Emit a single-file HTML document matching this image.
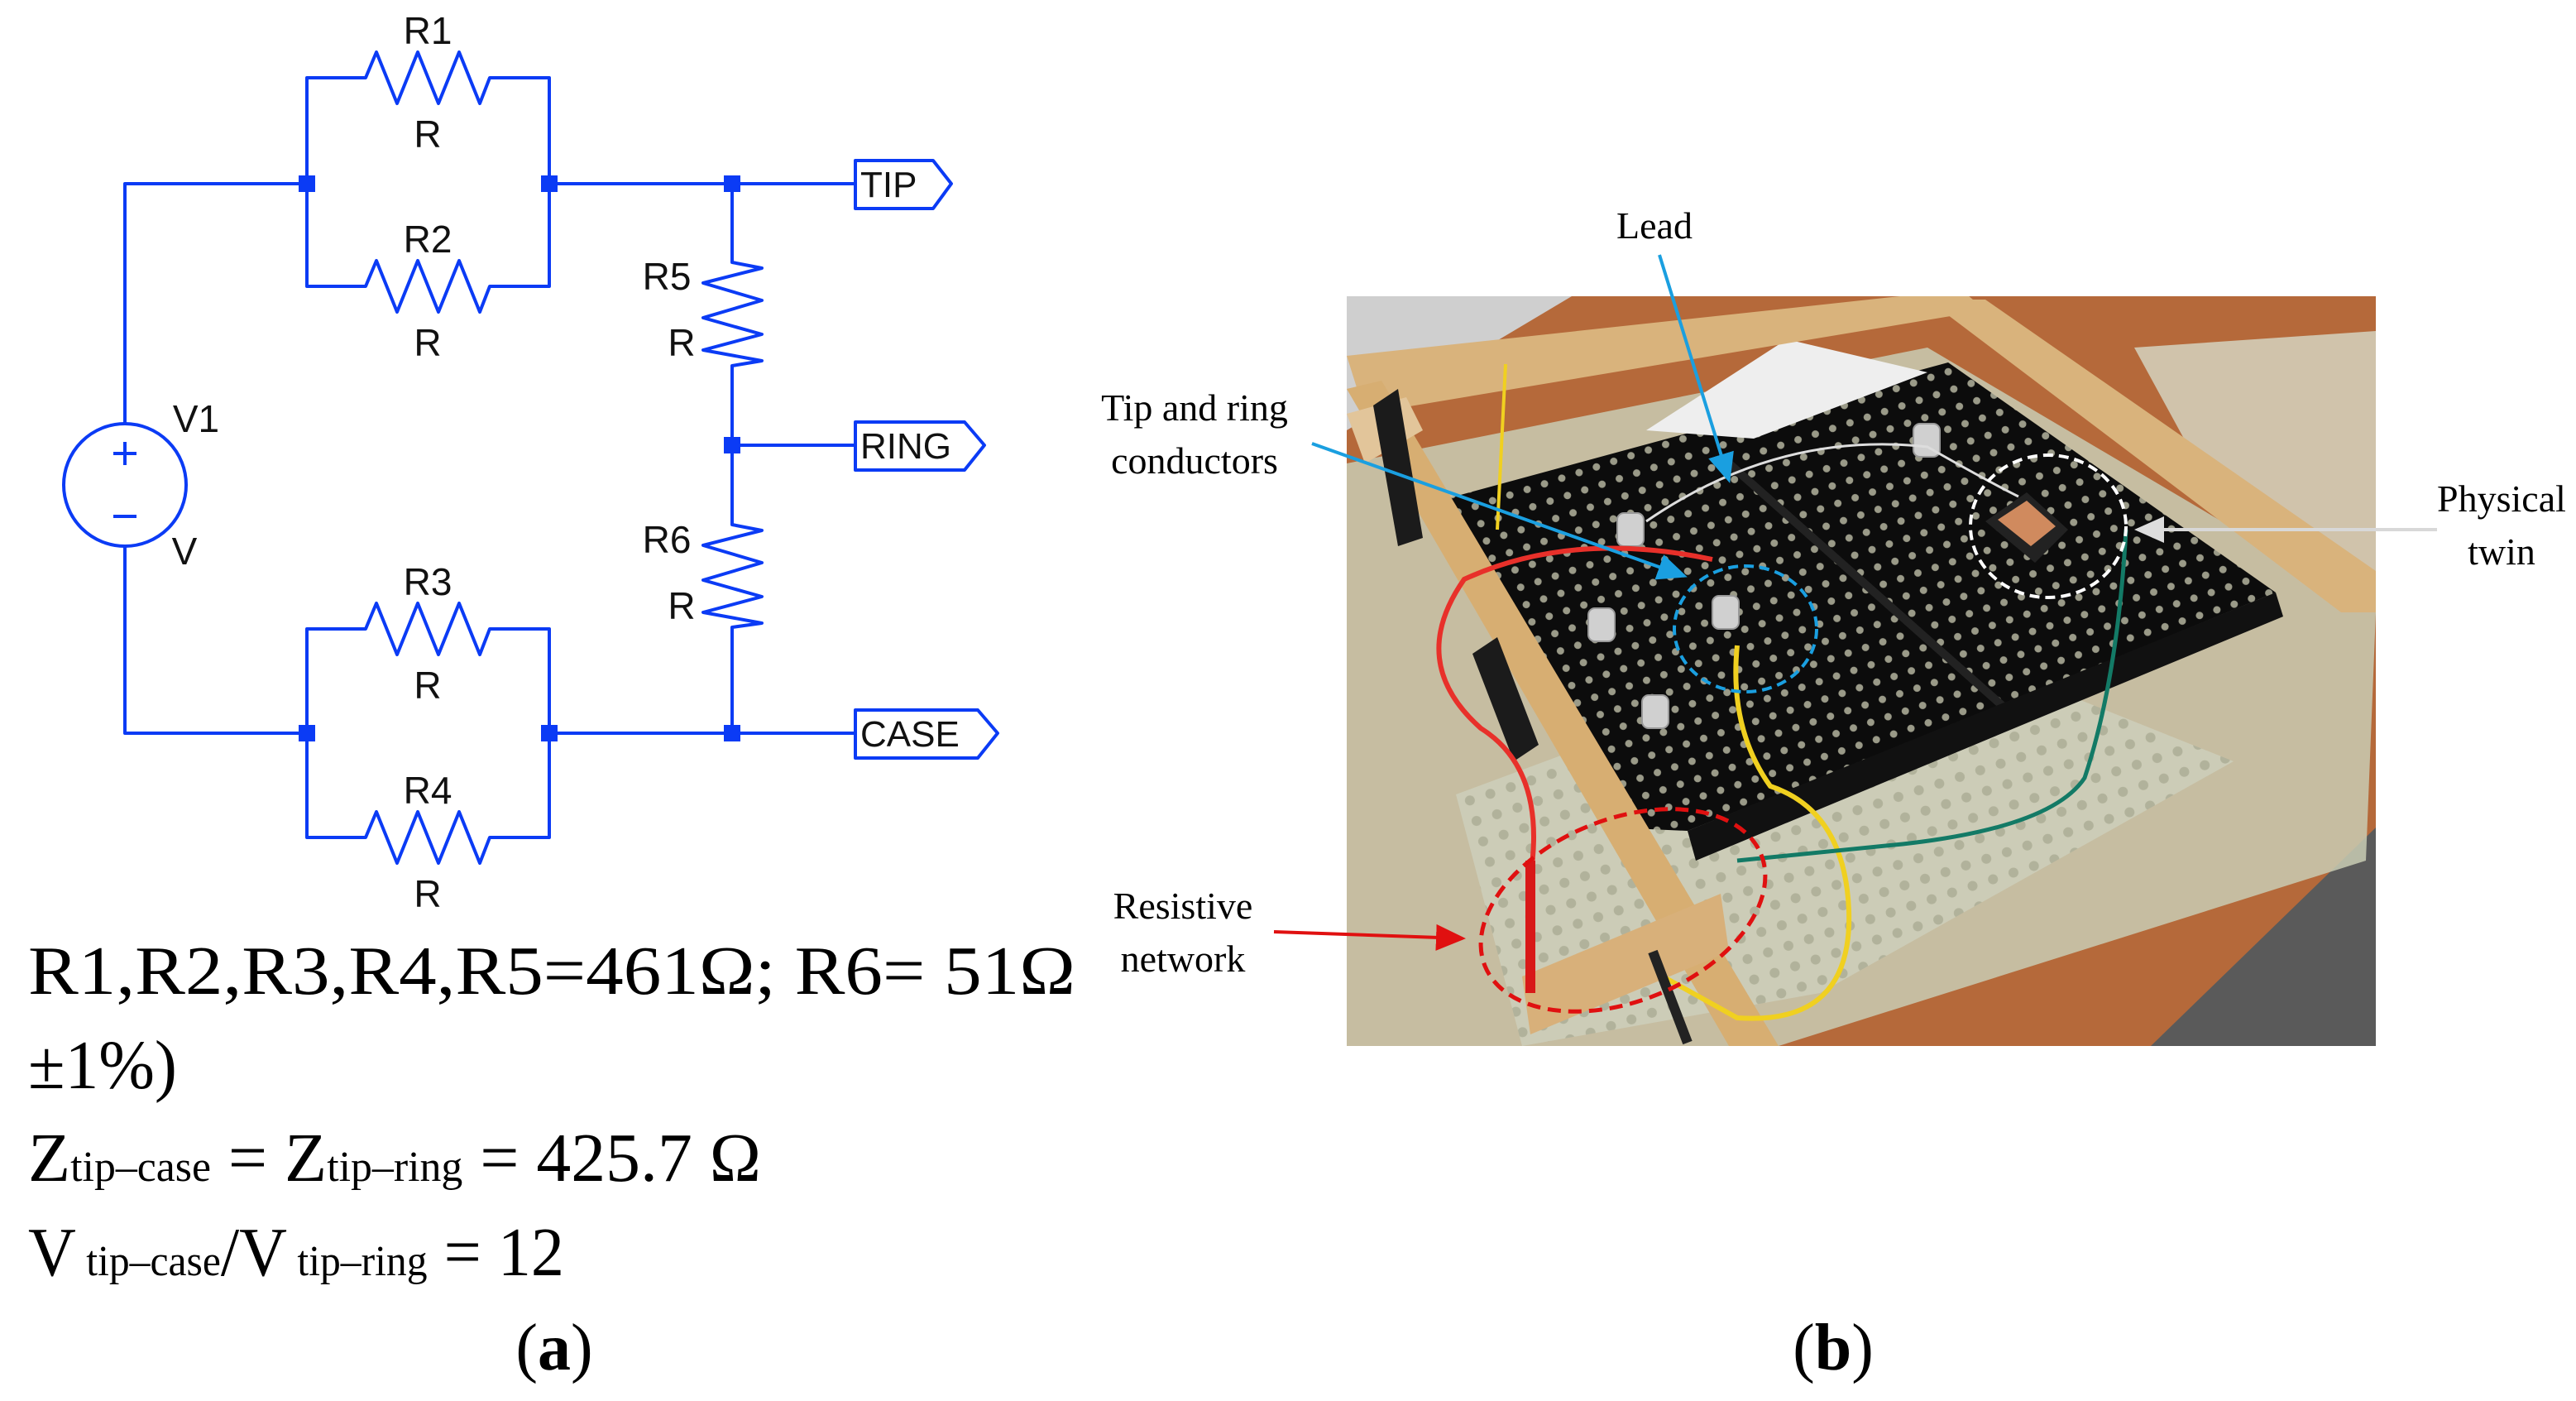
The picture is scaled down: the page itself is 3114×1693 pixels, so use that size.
<!DOCTYPE html>
<html><head><meta charset="utf-8"><style>
html,body{margin:0;padding:0;background:#fff;}
svg{display:block;}
</style></head><body>
<svg width="3114" height="1693" viewBox="0 0 3114 1693" xmlns="http://www.w3.org/2000/svg">
<defs>
<pattern id="grid" width="22" height="22" patternUnits="userSpaceOnUse" patternTransform="rotate(-18)">
<rect width="22" height="22" fill="#0c0c0c"/>
<circle cx="11" cy="11" r="4.5" fill="#9a9a88"/>
</pattern>
<pattern id="grid2" width="26" height="26" patternUnits="userSpaceOnUse" patternTransform="rotate(-18)">
<rect width="26" height="26" fill="#cfd3c0"/>
<circle cx="13" cy="13" r="6" fill="#a8ad98"/>
</pattern>
<marker id="ab" markerWidth="10" markerHeight="10" refX="8" refY="5" orient="auto" markerUnits="strokeWidth"><path d="M0,1 L9,5 L0,9 z" fill="#1a9fe0"/></marker>
<marker id="ar" markerWidth="10" markerHeight="10" refX="8" refY="5" orient="auto" markerUnits="strokeWidth"><path d="M0,1 L9,5 L0,9 z" fill="#e01010"/></marker>
<marker id="ag" markerWidth="10" markerHeight="10" refX="8" refY="5" orient="auto" markerUnits="strokeWidth"><path d="M0,1 L9,5 L0,9 z" fill="#ddd"/></marker>
</defs>

<!-- ================= CIRCUIT ================= -->
<g stroke="#0b3bf5" stroke-width="4" fill="none" stroke-linejoin="round">
<polyline points="371,222 151,222 151,512"/>
<polyline points="151,660 151,886 371,886"/>
<circle cx="151" cy="586" r="74"/>
<line x1="151" y1="534" x2="151" y2="562"/><line x1="137" y1="548" x2="165" y2="548"/>
<line x1="137" y1="624" x2="165" y2="624"/>
<polyline points="371,222 371,94 442,94 455,63 480,125 505,63 530,125 555,63 580,125 592,94 664,94 664,222"/>
<polyline points="371,222 371,346 442,346 455,315 480,377 505,315 530,377 555,315 580,377 592,346 664,346 664,222"/>
<polyline points="371,886 371,760 442,760 455,729 480,791 505,729 530,791 555,729 580,791 592,760 664,760 664,886"/>
<polyline points="371,886 371,1012 442,1012 455,981 480,1043 505,981 530,1043 555,981 580,1043 592,1012 664,1012 664,886"/>
<line x1="664" y1="222" x2="1034" y2="222"/>
<line x1="664" y1="886" x2="1034" y2="886"/>
<line x1="885" y1="538" x2="1034" y2="538"/>
<polyline points="885,222 885,317 921,324 850,342 921,363 850,384 921,404 850,423 921,436 885,442 885,634 921,641 850,659 921,680 850,701 921,721 850,740 921,753 885,758 885,886"/>
<polygon points="1034,194 1128,194 1150,222 1128,252 1034,252"/>
<polygon points="1034,510 1166,510 1190,538 1166,568 1034,568"/>
<polygon points="1034,858 1182,858 1206,886 1182,916 1034,916"/>
</g>
<g fill="#0b3bf5">
<rect x="361" y="212" width="20" height="20"/><rect x="654" y="212" width="20" height="20"/><rect x="875" y="212" width="20" height="20"/>
<rect x="875" y="528" width="20" height="20"/>
<rect x="361" y="876" width="20" height="20"/><rect x="654" y="876" width="20" height="20"/><rect x="875" y="876" width="20" height="20"/>
</g>
<g font-family="Liberation Sans, sans-serif" font-size="46" fill="#111" text-anchor="middle">
<text x="517" y="53">R1</text><text x="517" y="178">R</text>
<text x="517" y="305">R2</text><text x="517" y="430">R</text>
<text x="517" y="719">R3</text><text x="517" y="844">R</text>
<text x="517" y="971">R4</text><text x="517" y="1096">R</text>
<text x="806" y="350">R5</text><text x="824" y="430">R</text>
<text x="806" y="668">R6</text><text x="824" y="748">R</text>
<text x="237" y="522">V1</text><text x="223" y="682">V</text>
</g>
<g font-family="Liberation Sans, sans-serif" font-size="44" fill="#111">
<text x="1040" y="238">TIP</text>
<text x="1040" y="554">RING</text>
<text x="1040" y="902">CASE</text>
</g>

<g font-family="Liberation Serif, serif" fill="#000">
<text x="34" y="1201" font-size="84" textLength="1266" lengthAdjust="spacingAndGlyphs">R1,R2,R3,R4,R5=461Ω;   R6=   51Ω</text>
<text x="34" y="1315" font-size="84" textLength="180" lengthAdjust="spacingAndGlyphs">±1%)</text>
<text x="34" y="1427" font-size="84" textLength="886" lengthAdjust="spacingAndGlyphs">Z<tspan font-size="52">tip–case</tspan> = Z<tspan font-size="52">tip–ring</tspan> = 425.7 Ω</text>
<text x="34" y="1541" font-size="84" textLength="648" lengthAdjust="spacingAndGlyphs">V<tspan font-size="52"> tip–case</tspan>/V<tspan font-size="52"> tip–ring</tspan> = 12</text>
<text x="670" y="1655" font-size="80" text-anchor="middle">(<tspan font-weight="bold">a</tspan>)</text>
<text x="2216" y="1655" font-size="80" text-anchor="middle">(<tspan font-weight="bold">b</tspan>)</text>
</g>

<!-- ================= PHOTO ================= -->
<svg x="1628" y="358" width="1244" height="906" viewBox="1628 358 1244 906">
<rect x="1628" y="358" width="1244" height="906" fill="#b5693a"/>
<polygon points="1628,358 1900,358 1628,520" fill="#cfcfcf"/>
<polygon points="2600,1264 2872,1000 2872,1264" fill="#5a5a5a"/>
<polygon points="1628,560 2330,420 2872,740 2860,1040 2150,1264 1628,1264" fill="#c9ccb4" opacity="0.85"/>
<polygon points="1760,960 2300,760 2700,920 2200,1200 1840,1264" fill="url(#grid2)" opacity="0.7"/>
<polygon points="2580,420 2872,400 2872,700 2700,640" fill="#d7d9c8" opacity="0.8"/>
<polygon points="1725,609 2355,438 2751,716 2300,900 2040,1004 1950,1000" fill="url(#grid)"/>
<line x1="2090" y1="560" x2="2440" y2="870" stroke="#222" stroke-width="10"/>
<polygon points="2040,1004 2751,716 2760,745 2050,1040" fill="#111"/>
<polygon points="1990,520 2160,410 2330,450 2120,530" fill="#eee"/>
<polygon points="1628,430 2371,350 2400,375 1650,500" fill="#d9b37c"/>
<polygon points="1628,470 1670,460 2150,1264 2090,1264" fill="#d7ae72"/>
<polygon points="1628,500 1700,480 1720,520 1650,560" fill="#e2c59a"/>
<polygon points="2330,362 2400,362 2872,690 2872,740 2830,740" fill="#d9b37c"/>
<polygon points="1660,490 1690,470 1720,650 1690,660" fill="#1b1b1b"/>
<polygon points="1780,790 1810,770 1860,900 1830,920" fill="#1b1b1b"/>
<polygon points="1840,1180 2080,1080 2090,1150 1850,1250" fill="#d8b07a"/>
<g fill="#d0d0d0" stroke="#999" stroke-width="2">
<rect x="1955" y="620" width="32" height="40" rx="8"/><rect x="1920" y="735" width="32" height="40" rx="8"/>
<rect x="2070" y="720" width="32" height="40" rx="8"/><rect x="1985" y="840" width="32" height="40" rx="8"/>
<rect x="2313" y="512" width="32" height="40" rx="8"/>
</g>
<polygon points="2400,630 2450,595 2500,640 2460,680" fill="#222"/>
<polygon points="2415,628 2450,605 2485,636 2455,660" fill="#d08a5e"/>
<path d="M1990,630 Q2150,520 2330,540 Q2400,580 2440,600" stroke="#ddd" stroke-width="3" fill="none"/>
<path d="M2070,676 Q1900,640 1770,700 Q1700,800 1790,880 Q1870,930 1850,1060 L1850,1110" stroke="#e8302a" stroke-width="6" fill="none"/>
<line x1="1850" y1="1040" x2="1850" y2="1200" stroke="#d81818" stroke-width="12"/>
<path d="M2100,780 Q2090,880 2140,950 Q2230,980 2235,1100 Q2240,1240 2100,1230 L2010,1180" stroke="#f0d020" stroke-width="6" fill="none"/>
<path d="M2570,640 Q2560,820 2520,940 Q2480,1000 2300,1020 Q2200,1030 2100,1040" stroke="#137a66" stroke-width="5" fill="none"/>
<line x1="1998" y1="1150" x2="2040" y2="1260" stroke="#222" stroke-width="12"/>
<path d="M1810,640 L1820,440" stroke="#f0d020" stroke-width="4"/>
</svg>

<ellipse cx="2110" cy="760" rx="86" ry="76" fill="none" stroke="#1a9fe0" stroke-width="4" stroke-dasharray="12,7"/>
<ellipse cx="2476" cy="636" rx="94" ry="86" fill="none" stroke="#fff" stroke-width="4" stroke-dasharray="12,7"/>
<ellipse cx="1962" cy="1100" rx="180" ry="110" transform="rotate(-22 1962 1100)" fill="none" stroke="#e01010" stroke-width="5" stroke-dasharray="16,9"/>
<line x1="2006" y1="308" x2="2090" y2="580" stroke="#1a9fe0" stroke-width="4" marker-end="url(#ab)"/>
<line x1="1586" y1="536" x2="2036" y2="696" stroke="#1a9fe0" stroke-width="4" marker-end="url(#ab)"/>
<line x1="2946" y1="640" x2="2584" y2="640" stroke="#d8d8d8" stroke-width="4" marker-end="url(#ag)"/>
<line x1="1540" y1="1126" x2="1768" y2="1134" stroke="#e01010" stroke-width="4" marker-end="url(#ar)"/>

<g font-family="Liberation Serif, serif" font-size="46" fill="#000" text-anchor="middle">
<text x="2000" y="288">Lead</text>
<text x="1444" y="508">Tip and ring</text>
<text x="1444" y="572">conductors</text>
<text x="3024" y="618">Physical</text>
<text x="3024" y="682">twin</text>
<text x="1430" y="1110">Resistive</text>
<text x="1430" y="1174">network</text>
</g>
</svg>
</body></html>
